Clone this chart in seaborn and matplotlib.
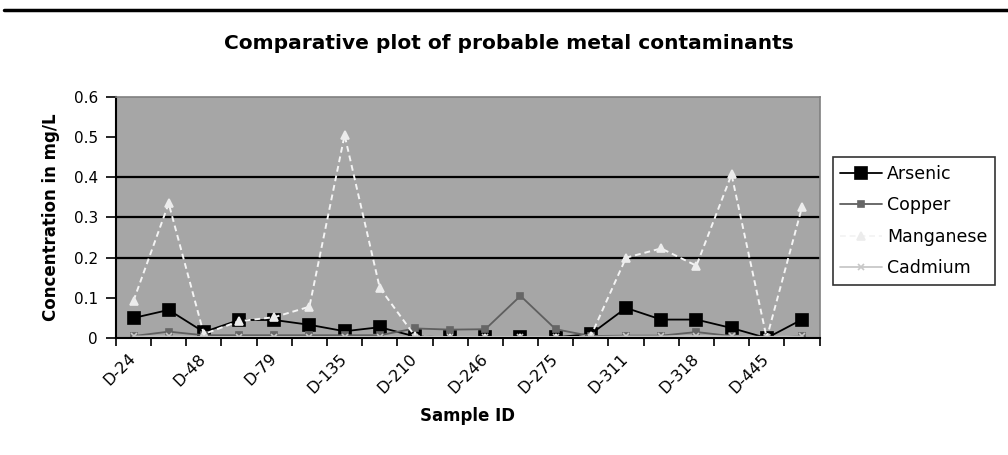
import matplotlib
matplotlib.use("Agg")
import matplotlib.pyplot as plt
import matplotlib.transforms as mtransforms
import seaborn as sns
import pandas as pd
from matplotlib.lines import Line2D

# ---- data ----
samples = ["D-24", "D-36", "D-48", "D-62", "D-79", "D-101", "D-135", "D-170",
           "D-210", "D-228", "D-246", "D-260", "D-275", "D-290", "D-311", "D-315",
           "D-318", "D-402", "D-445", "D-480"]
arsenic = [0.05, 0.07, 0.015, 0.045, 0.045, 0.033, 0.017, 0.027, 0.004, 0.002,
           0.002, 0.002, 0.002, 0.01, 0.075, 0.046, 0.046, 0.025, 0.0, 0.046]
copper = [0.005, 0.016, 0.007, 0.007, 0.007, 0.007, 0.007, 0.007, 0.024, 0.021,
          0.022, 0.105, 0.022, 0.005, 0.006, 0.006, 0.015, 0.005, 0.0, 0.005]
manganese = [0.093, 0.335, 0.01, 0.042, 0.052, 0.078, 0.505, 0.125, 0.005, 0.0,
             0.0, 0.0, 0.0, 0.005, 0.2, 0.223, 0.18, 0.407, 0.0, 0.325]
cadmium = [0.004, 0.004, 0.003, 0.003, 0.003, 0.003, 0.003, 0.003, 0.003, 0.003,
           0.003, 0.003, 0.003, 0.003, 0.004, 0.004, 0.005, 0.004, 0.003, 0.004]
series_names = ["Arsenic", "Copper", "Manganese", "Cadmium"]
y_ticks = [0, 0.1, 0.2, 0.3, 0.4, 0.5, 0.6]
y_tick_labels = ["0", "0.1", "0.2", "0.3", "0.4", "0.5", "0.6"]
grid_shown = [0.2, 0.3, 0.4]

df = pd.DataFrame({"Sample": samples, "Arsenic": arsenic, "Copper": copper,
                   "Manganese": manganese, "Cadmium": cadmium})

styles = {
    "Arsenic": dict(color="black", marker="s", markersize=8.5, lw=1.3,
                    mfc="black", mec="black", ls="-"),
    "Copper": dict(color="#5f5f5f", marker="s", markersize=5, lw=1.3,
                   mfc="#666666", mec="#666666", ls="-"),
    "Manganese": dict(color="#f4f4f4", marker="^", markersize=5.5, lw=1.4,
                      mfc="#ececec", mec="#ececec", ls=(0, (3, 2))),
    "Cadmium": dict(color="#c8c8c8", marker="x", markersize=5, lw=1.3,
                    mfc="#c8c8c8", mec="#c8c8c8", ls="-"),
}

sns.set_style("white")
plt.rcParams["font.family"] = ["DejaVu Sans"]
plt.rcParams["text.color"] = "black"
plt.rcParams["axes.labelcolor"] = "black"
plt.rcParams["xtick.color"] = "black"
plt.rcParams["ytick.color"] = "black"

fig = plt.figure(figsize=(10.08, 4.55), dpi=100)
ax = fig.add_axes([0.115, 0.257, 0.698, 0.530])
ax.set_facecolor("#a6a6a6")

for name in series_names:
    st = styles[name]
    sns.lineplot(data=df, x="Sample", y=name, ax=ax, sort=False,
                 color=st["color"], lw=st["lw"], linestyle=st["ls"],
                 marker=st["marker"], markersize=st["markersize"],
                 markerfacecolor=st["mfc"], markeredgecolor=st["mec"],
                 markeredgewidth=1.2, label=name)

n = len(samples)
ax.set_xlim(-0.5, n - 0.5)
ax.set_ylim(0, 0.6)

# y axis
ax.set_yticks(y_ticks)
ax.set_yticklabels(y_tick_labels, fontsize=11)
ax.yaxis.grid(True, color="black", lw=1.6)
for val, gl in zip(y_ticks, ax.get_ygridlines()):
    gl.set_visible(val in grid_shown)
ax.set_axisbelow(True)

# x axis: labels every other category, tick marks between categories
ax.set_xticks(range(n))
ax.set_xticklabels([s if i % 2 == 0 else "" for i, s in enumerate(samples)],
                   rotation=45, ha="right", va="center", rotation_mode="anchor",
                   fontsize=11.5)
offset = mtransforms.ScaledTranslation(-8 / 100, 0, fig.dpi_scale_trans)
for lbl in ax.get_xticklabels():
    lbl.set_transform(lbl.get_transform() + offset)
ax.tick_params(axis="x", which="major", length=0, pad=13)
ax.set_xticks([i - 0.5 for i in range(n + 1)], minor=True)
ax.tick_params(axis="x", which="minor", length=6, width=1.2, color="black",
               direction="out", bottom=True)
ax.tick_params(axis="y", length=7, width=1.2, color="black", direction="out",
               left=True, pad=6)

for side in ["left", "bottom"]:
    ax.spines[side].set_color("black")
    ax.spines[side].set_linewidth(1.5)
for side in ["top", "right"]:
    ax.spines[side].set_color("#808080")
    ax.spines[side].set_linewidth(1.2)
    ax.spines[side].set_visible(True)

ax.set_xlabel("Sample ID", fontsize=12, fontweight="bold", labelpad=8)
ax.set_ylabel("Concentration in mg/L", fontsize=12, fontweight="bold", labelpad=10)
fig.suptitle("Comparative plot of probable metal contaminants", fontsize=14.5,
             fontweight="bold", x=0.505, y=0.925, color="black")

leg = ax.legend(loc="upper left", bbox_to_anchor=(0.826, 0.655),
                bbox_transform=fig.transFigure, borderaxespad=0, fontsize=12.5,
                frameon=True, fancybox=False, edgecolor="black",
                handlelength=2.4, handletextpad=0.3, labelspacing=0.78,
                borderpad=0.45)
leg.get_frame().set_linewidth(1.2)
for t in leg.get_texts():
    t.set_color("black")

fig.add_artist(Line2D([0.004, 1.0], [0.978, 0.978], transform=fig.transFigure,
                      color="black", lw=2.5))

fig.savefig("out.png", dpi=100, facecolor="white")
